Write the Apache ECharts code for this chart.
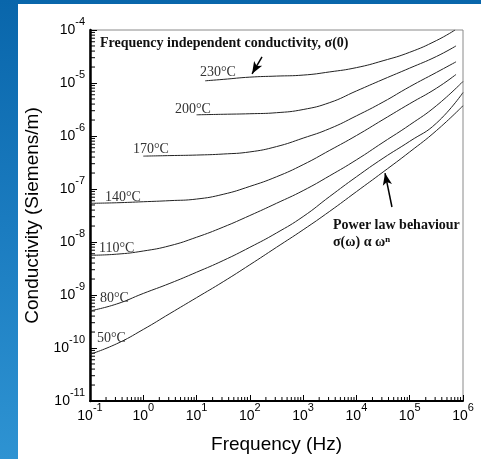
<!DOCTYPE html>
<html>
<head>
<meta charset="utf-8">
<script src="https://cdn.jsdelivr.net/npm/echarts@6/dist/echarts.min.js"></script>
<style>
html, body { margin: 0; padding: 0; }
body { width: 481px; height: 459px; position: relative; overflow: hidden;
  background: linear-gradient(180deg, #0966ab 0%, #1b7cc0 50%, #2e93d2 100%); }
#panel { position: absolute; left: 18px; top: 4px; width: 463px; height: 455px; background: #fff; }
#chart { position: absolute; left: 0; top: 0; width: 481px; height: 459px; }
</style>
</head>
<body>
<div id="panel"></div>
<div id="chart"></div>
<script>
// conductivity vs frequency, one pair of arrays per temperature
let freq230 = [14.5, 31.6, 100, 316, 1000, 3160, 1e4, 3.16e4, 1e5, 3.16e5, 7.1e5];
let cond230 = [1.10e-5, 1.17e-5, 1.29e-5, 1.35e-5, 1.41e-5, 1.62e-5, 1.95e-5, 2.63e-5, 3.80e-5, 6.31e-5, 1.0e-4];

let freq200 = [10, 31.6, 100, 316, 1000, 3160, 1e4, 3.16e4, 1e5, 3.16e5, 7.4e5];
let cond200 = [2.51e-6, 2.57e-6, 2.63e-6, 2.75e-6, 3.16e-6, 4.27e-6, 7.08e-6, 1.17e-5, 1.91e-5, 3.16e-5, 5.01e-5];

let freq170 = [1, 3.16, 10, 31.6, 100, 316, 1000, 3160, 1e4, 3.16e4, 1e5, 3.16e5, 7.4e5];
let cond170 = [4.17e-7, 4.27e-7, 4.37e-7, 4.57e-7, 5.01e-7, 6.31e-7, 9.12e-7, 1.38e-6, 2.40e-6, 4.37e-6, 8.51e-6, 1.58e-5, 2.51e-5];

let freq140 = [0.1, 0.316, 1, 3.16, 10, 31.6, 100, 316, 1000, 3160, 1e4, 3.16e4, 1e5, 3.16e5, 7.4e5];
let cond140 = [5.37e-8, 5.50e-8, 5.75e-8, 6.03e-8, 6.46e-8, 7.94e-8, 1.12e-7, 1.70e-7, 2.88e-7, 5.37e-7, 1.02e-6, 2.04e-6, 4.07e-6, 7.94e-6, 1.45e-5];

let freq110 = [0.1, 0.316, 1, 3.16, 10, 31.6, 100, 316, 1000, 3160, 1e4, 3.16e4, 1e5, 3.16e5, 1e6];
let cond110 = [5.62e-9, 5.89e-9, 6.76e-9, 8.51e-9, 1.23e-8, 1.91e-8, 3.16e-8, 5.37e-8, 9.33e-8, 1.78e-7, 3.55e-7, 7.59e-7, 1.62e-6, 3.72e-6, 1.07e-5];

let freq80 = [0.1, 0.316, 1, 3.16, 10, 31.6, 100, 316, 1000, 3160, 1e4, 3.16e4, 1e5, 3.16e5, 1e6];
let cond80 = [5.01e-10, 6.76e-10, 1.07e-9, 1.66e-9, 2.69e-9, 4.47e-9, 7.94e-9, 1.48e-8, 3.02e-8, 7.24e-8, 1.70e-7, 3.80e-7, 7.94e-7, 1.74e-6, 6.61e-6];

let freq50 = [0.1, 0.316, 1, 3.16, 10, 31.6, 100, 316, 1000, 3160, 1e4, 3.16e4, 1e5, 3.16e5, 1e6];
let cond50 = [7.59e-11, 1.20e-10, 2.24e-10, 4.47e-10, 8.91e-10, 1.78e-9, 3.72e-9, 7.94e-9, 1.70e-8, 3.80e-8, 8.91e-8, 2.09e-7, 5.01e-7, 1.26e-6, 3.72e-6];

// log axis decades and minor tick steps
let decadesX = [0.1, 1, 10, 100, 1e3, 1e4, 1e5];
let decadesY = [1e-11, 1e-10, 1e-9, 1e-8, 1e-7, 1e-6, 1e-5];
let minorSteps = [2, 3, 4, 5, 6, 7, 8, 9];

// arrows: [tail, head] as [Hz, S/m]
let arrowSigma0 = [[169, 3.11e-5], [110, 1.49e-5]];
let arrowPower = [[46400, 4.57e-8], [34400, 1.99e-7]];

const pair = (f, c) => f.map((v, i) => [v, c[i]]);
const xMinor = decadesX.flatMap(d => minorSteps.map(s => [d * s, 1e-11]));
const yMinor = decadesY.flatMap(d => minorSteps.map(s => [0.1, d * s]));

const curveStyle = { color: '#222', width: 1 };
function curve(name, data, extra) {
    return Object.assign({
        name: name, type: 'line', data: data, showSymbol: false, smooth: 0.5,
        lineStyle: curveStyle, itemStyle: { color: '#222' }, silent: true
    }, extra || {});
}
function arrow(a) {
    return {
        silent: true, symbolSize: [7, 12], label: { show: false },
        lineStyle: { color: '#000', width: 1.5, type: 'solid' },
        data: [[{ coord: a[0], symbol: 'none' }, { coord: a[1], symbol: 'arrow' }]]
    };
}

// "10" with the exponent raised as a superscript
const pow10 = v => '{b|10}{e|' + Math.round(Math.log10(v)) + '}';
const richTick = {
    b: { fontSize: 14, fontFamily: 'Liberation Sans', color: '#000', verticalAlign: 'bottom', lineHeight: 21 },
    e: { fontSize: 11, fontFamily: 'Liberation Sans', color: '#000', verticalAlign: 'top', lineHeight: 10 }
};

const serif = '"Liberation Serif", "DejaVu Serif", serif';
function note(text, x, y, bold, size) {
    return { type: 'text', x: x, y: y, silent: true,
        style: { text: text, fill: bold ? '#111' : '#333', align: 'left', verticalAlign: 'middle',
            font: (bold ? 'bold ' : '') + (size || 14) + 'px ' + serif } };
}

function tickItem(vertical, len) {
    return function (params, api) {
        const p = api.coord([api.value(0), api.value(1)]);
        return { type: 'line', silent: true,
            shape: vertical ? { x1: p[0], y1: p[1], x2: p[0], y2: p[1] - len }
                            : { x1: p[0], y1: p[1], x2: p[0] + len, y2: p[1] },
            style: { stroke: '#000', lineWidth: 1 } };
    };
}

let option = {
    animation: false,
    backgroundColor: 'transparent',
    grid: { left: 90, right: 18, top: 30, bottom: 56, show: true, borderColor: '#8a8a8a', borderWidth: 1 },
    xAxis: {
        type: 'log', logBase: 10, min: 0.1, max: 1e6, splitNumber: 7, interval: 1,
        name: 'Frequency (Hz)', nameLocation: 'middle', nameGap: 34,
        nameTextStyle: { fontSize: 19, fontFamily: 'Liberation Sans', color: '#000' },
        axisLine: { lineStyle: { color: '#000', width: 2 } },
        axisTick: { inside: true, length: 6, lineStyle: { color: '#000' } },
        axisLabel: { margin: 1, formatter: pow10, rich: richTick },
        splitLine: { show: false }
    },
    yAxis: {
        type: 'log', logBase: 10, min: 1e-11, max: 1e-4, splitNumber: 7, interval: 1,
        name: 'Conductivity (Siemens/m)', nameLocation: 'middle', nameGap: 48,
        nameTextStyle: { fontSize: 19, fontFamily: 'Liberation Sans', color: '#000' },
        axisLine: { lineStyle: { color: '#000', width: 2.5 } },
        axisTick: { inside: true, length: 7, lineStyle: { color: '#000' } },
        axisLabel: { margin: 5, formatter: pow10, rich: richTick, padding: [0, 0, 6, 0] },
        splitLine: { show: false }
    },
    graphic: [
        note('Frequency independent conductivity, σ(0)', 100, 43, true, 14),
        note('230°C', 200, 72),
        note('200°C', 175, 109),
        note('170°C', 133, 149),
        note('140°C', 105, 197),
        note('110°C', 99, 248),
        note('80°C', 100, 298),
        note('50°C', 97, 338),
        note('Power law behaviour', 333, 225, true, 14),
        note('σ(ω) α ωⁿ', 333, 242, true, 14)
    ],
    series: [
        curve('230°C', pair(freq230, cond230), { markLine: arrow(arrowSigma0) }),
        curve('200°C', pair(freq200, cond200)),
        curve('170°C', pair(freq170, cond170)),
        curve('140°C', pair(freq140, cond140)),
        curve('110°C', pair(freq110, cond110)),
        curve('80°C', pair(freq80, cond80)),
        curve('50°C', pair(freq50, cond50), { markLine: arrow(arrowPower) }),
        { type: 'custom', data: xMinor, renderItem: tickItem(true, 4), silent: true, z: 3 },
        { type: 'custom', data: yMinor, renderItem: tickItem(false, 5), silent: true, z: 3 }
    ]
};

let chart = echarts.init(document.getElementById('chart'));
chart.setOption(option);
</script>
</body>
</html>
